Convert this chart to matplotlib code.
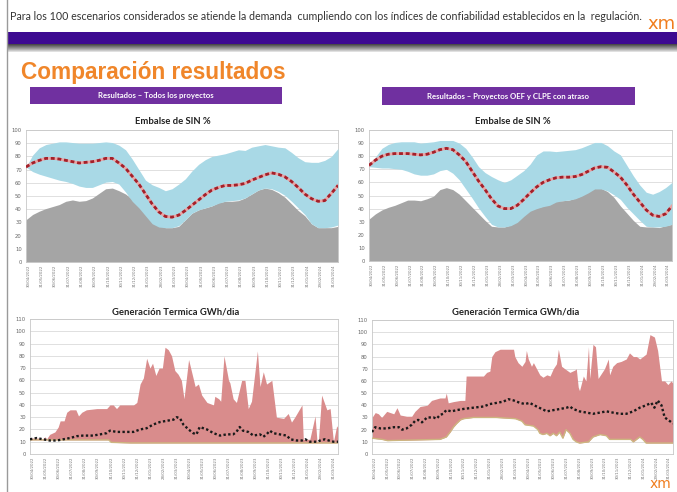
import numpy as np
import matplotlib
matplotlib.use("Agg")
from matplotlib import pyplot as plt
from matplotlib.patches import Rectangle

# --- data --------------------------------------------------------------------
date_labels = ['30/04/2022', '31/05/2022', '30/06/2022', '31/07/2022', '31/08/2022',
               '30/09/2022', '31/10/2022', '30/11/2022', '31/12/2022', '31/01/2023',
               '28/02/2023', '31/03/2023', '30/04/2023', '31/05/2023', '30/06/2023',
               '31/07/2023', '31/08/2023', '30/09/2023', '31/10/2023', '30/11/2023',
               '31/12/2023', '31/01/2024', '29/02/2024', '31/03/2024']

# Embalse SIN %, twice-monthly samples (left: todos los proyectos)
emb_l_mean = [72, 75, 77, 78.5, 78.5, 78, 77, 76, 75, 75.5, 76, 77, 78.5, 78.5, 75, 71,
              65, 59, 51.5, 44, 38, 34.5, 34, 35.5, 39, 43, 47, 51, 54.5, 56.5, 58, 58,
              58.5, 59.5, 62, 64, 66, 67.5, 66.5, 64.5, 61, 56.5, 51.5, 48, 46, 46.5, 52, 58]
emb_l_max = [72, 81, 86.5, 89, 90, 91, 91, 90.5, 90, 90, 90, 90.5, 91, 90.5, 88.5, 85,
             78, 70, 62, 58.5, 56.5, 54, 55.5, 59, 63, 69, 74, 77.5, 80, 81, 82, 83.5,
             85, 84.5, 87, 88, 89, 88, 87, 86.5, 83, 79, 76, 75.5, 75.5, 77, 80, 86]
emb_l_min = [72, 68.5, 66.5, 65, 63.5, 62, 61, 59.5, 57.5, 56.5, 56.5, 58.5, 60.5, 61, 59, 53,
             46, 41, 35, 29, 26.5, 26, 26, 27.5, 32, 37, 39.5, 41, 42.5, 44.5, 46, 46.5,
             47, 48.5, 51.5, 54.5, 56, 55.5, 53.5, 50.5, 46, 41, 36, 29, 26, 26, 26.5, 28]
emb_l_hist = [32, 36, 38.5, 40.5, 42, 43.5, 46, 47, 46, 46.5, 48.5, 52, 55.5, 56, 54, 51.5,
              47.5, 43, 38, 33, 28, 26, 26, 27, 32, 37, 39.5, 41, 42.5, 45, 46, 46,
              46.5, 48.5, 51.5, 54.5, 56, 55, 52.5, 49, 44, 39, 35, 29, 26, 26, 26, 27]

# right: proyectos OEF y CLPE con atraso
emb_r_mean = [73, 77, 80, 81.5, 82, 82, 82, 81.5, 81, 81.5, 83, 85, 86, 85, 81, 76,
              68.5, 61, 54.5, 47.5, 42, 40, 40, 42.5, 47, 52, 56.5, 60, 62, 63.5, 64, 64,
              64.5, 66, 68.5, 71, 72, 71.5, 68, 64, 58, 51, 45, 39, 35, 34, 36, 42]
emb_r_max = [73, 79.5, 86, 89, 90.5, 91, 91, 91, 90, 90.5, 91, 92, 92, 92, 90, 86,
             79.5, 72, 67.5, 64.5, 62, 60, 62, 65.5, 69, 74, 81, 84, 84, 83.5, 84, 84.5,
             85, 86.5, 88.5, 90.5, 90.5, 88, 84, 81, 73, 65, 58, 52.5, 51, 53, 56, 60]
emb_r_min = [72, 71.5, 71, 71, 70.5, 70, 68.5, 66.5, 65.5, 65.5, 66.5, 69, 70, 67, 62, 55,
             48, 40.5, 34, 28, 26, 26, 27, 29.5, 34, 38, 40, 41.5, 42.5, 45, 46, 46.5,
             47.5, 49.5, 52, 55, 55, 53.5, 50.5, 47, 41, 36, 31, 26.5, 26, 26, 26.5, 28]
emb_r_hist = [32, 36, 39, 41, 42.5, 44.5, 46.5, 46.5, 46, 47.5, 49.5, 54.5, 56, 54.5, 51, 46,
              41, 36, 31, 26.5, 26, 26, 27.5, 31, 36, 39, 40.5, 42, 44.5, 46, 46, 46.5,
              48, 50, 53.5, 56, 55.5, 53, 48.5, 42, 36.5, 31, 26.5, 26, 26, 25.5, 27, 28]

# Generacion termica GWh/dia : (month, value) break points
gen_l_max_t = [-0.2, 0.45, 0.7, 0.95, 1.05, 1.3, 1.7, 1.95, 2.1, 2.4, 2.6, 2.85, 3.3, 3.5, 3.75,
               4.1, 4.9, 5.65, 5.9, 6.15, 6.4, 6.65, 7.7, 7.95, 8.2, 8.45, 8.7, 8.95, 9.15,
               9.4, 9.65, 9.9, 10.1, 10.35, 10.6, 10.85, 11.1, 11.35, 11.55, 11.9, 12.4,
               12.65, 12.9, 13.3, 13.8, 13.9, 14.2, 14.35, 14.6, 14.95, 15.05, 15.3, 15.55,
               15.95, 16.2, 16.45, 16.7, 17.15, 17.35, 17.6, 17.85, 18.25, 18.6, 19.15, 19.5,
               19.75, 20.0, 20.55, 20.65, 21.15, 21.55, 21.7, 21.8, 22.05, 22.45, 22.7, 22.95,
               23.2, 23.3]
gen_l_max_v = [13, 13, 12, 14, 12, 16, 18, 22, 27, 27, 34, 36, 36, 31, 34,
               36, 37, 37, 40, 40, 37, 40, 40, 42, 57, 62, 78, 70, 74,
               64, 70, 70, 87, 85, 80, 68, 65, 60, 45, 77, 55,
               57, 48, 42, 40, 47, 45, 43, 80, 60, 58, 45, 42,
               60, 60, 37, 43, 84, 55, 67, 57, 60, 30, 29, 33,
               26, 30, 40, 12, 12, 31, 10, 10, 48, 36, 37, 10,
               23, 21]
gen_l_min_t = [-0.2, 5.8, 6.0, 7.5, 23.3]
gen_l_min_v = [11.5, 11.5, 9.5, 9, 9]
gen_l_mean_t = [-0.2, 0.3, 0.8, 1.3, 1.85, 2.35, 2.85, 3.35, 3.85, 4.6, 5.15, 5.65, 5.9, 6.4,
                7.2, 7.7, 8.2, 8.7, 9.2, 9.7, 10.2, 10.75, 11.0, 11.25, 11.5, 11.9, 12.25,
                12.5, 12.75, 13.3, 13.8, 14.3, 14.8, 15.3, 15.55, 15.8, 16.05, 16.45, 16.85,
                17.35, 17.6, 17.85, 18.1, 18.35, 18.85, 19.4, 19.65, 20.15, 20.55, 20.8,
                21.15, 21.7, 21.95, 22.3, 22.6, 22.95, 23.3]
gen_l_mean_v = [12, 13, 12, 11, 11, 12, 13, 14.5, 15, 15, 16, 17, 19, 18,
                18, 18, 20, 21, 24, 26, 27, 28, 30, 29, 24, 20, 17,
                16, 22, 20, 17, 15, 16, 16, 18, 22, 19, 18, 15,
                16, 14, 16, 19, 17, 16, 15, 12, 11, 11, 12,
                10, 10, 11, 12, 11, 10, 10]

gen_r_max_t = [-0.2, 0.05, 0.3, 0.55, 0.95, 1.5, 1.75, 2.0, 2.5, 2.9, 3.15, 3.55, 4.1, 4.45,
               5.1, 5.5, 5.6, 5.75, 6.15, 6.7, 7.05, 7.15, 8.5, 8.75, 9.0, 9.15, 9.4, 9.8,
               10.85, 10.95, 11.2, 11.5, 11.75, 11.85, 12.0, 12.25, 12.4, 12.65, 12.9, 13.15,
               13.45, 13.7, 13.95, 14.2, 14.35, 14.6, 14.85, 15.25, 15.65, 15.75, 15.9, 16.0,
               16.3, 16.5, 16.7, 16.8, 17.05, 17.25, 17.45, 17.7, 17.95, 18.25, 18.35, 18.6,
               18.9, 19.25, 19.65, 19.9, 20.2, 20.45, 20.7, 20.95, 21.2, 21.5, 21.85, 22.1,
               22.4, 22.65, 22.9, 23.15, 23.3]
gen_r_max_v = [30, 34, 33, 30, 35, 33, 38, 32, 31, 31, 35, 39, 40, 44,
               46, 46, 50, 42, 43, 44, 44, 64, 64, 67, 68, 80, 84, 86,
               86, 80, 75, 72, 76, 85, 78, 72, 75, 70, 65, 63,
               65, 64, 70, 74, 86, 72, 70, 67, 69, 70, 55, 52,
               64, 60, 88, 62, 90, 88, 62, 66, 70, 78, 65, 72,
               75, 76, 78, 83, 80, 80, 78, 80, 82, 98, 96, 85,
               60, 60, 57, 60, 58]
gen_r_min_t = [-0.2, 0.6, 1.0, 5.1, 5.35, 5.6, 5.9, 6.15, 6.4, 6.7, 6.95, 7.7, 9.5, 11.0,
               11.5, 11.75, 12.4, 12.75, 12.9, 13.15, 13.45, 13.7, 13.95, 14.2, 14.45, 14.7,
               14.95, 15.25, 15.5, 15.75, 16.0, 16.7, 17.05, 17.6, 18.1, 18.35, 20.0, 20.2,
               20.7, 20.95, 21.2, 23.3]
gen_r_min_v = [13, 12, 11, 12, 13, 14, 18, 22, 25, 28, 29, 30, 30, 29,
               27, 24, 23, 20, 17, 16, 17, 15, 17, 15, 18, 13,
               20, 17, 12, 10, 9, 10, 14, 16, 15, 12, 12, 10,
               14, 12, 9, 9]
gen_r_mean_t = [-0.2, 0.05, 0.45, 0.95, 1.5, 1.9, 2.15, 2.5, 2.9, 3.15, 3.4, 3.7, 4.1, 4.6,
                4.85, 5.1, 5.35, 5.6, 6.0, 6.4, 6.95, 7.7, 8.5, 9.0, 9.55, 10.05, 10.45,
                10.85, 11.35, 11.75, 12.1, 12.65, 13.05, 13.45, 13.95, 14.5, 15.0, 15.25,
                15.5, 16.0, 16.55, 17.05, 17.6, 18.1, 18.6, 19.15, 19.65, 20.2, 20.7, 21.2,
                21.6, 21.85, 22.1, 22.4, 22.65, 23.05, 23.3]
gen_r_mean_v = [18, 22, 21, 21, 22, 22, 20, 21, 24, 27, 28, 26, 30, 30,
                29, 32, 33, 36, 35, 36, 37, 38, 39, 41, 42, 43, 45,
                44, 42, 41, 42, 39, 37, 35, 36, 37, 38, 39,
                37, 35, 34, 33, 34, 35, 34, 33, 33, 35, 38, 40,
                42, 38, 44, 40, 30, 27, 25]

# --- figure ---------------------------------------------------------------
W, H = 677, 492
fig = plt.figure(figsize=(W / 100, H / 100), dpi=100)
fig.patch.set_facecolor('white')

bg = fig.add_axes([0, 0, 1, 1])
bg.set_xlim(0, W)
bg.set_ylim(H, 0)
bg.axis('off')

# slide decoration
bg.add_patch(Rectangle((7, 32), W - 7, 12, color='#3d0a91', lw=0))
for i, c in enumerate(['#4a4a4a', '#5e5e5e', '#727272', '#868686', '#9a9a9a', '#b0b0b0', '#c8c8c8', '#e0e0e0']):
    bg.add_patch(Rectangle((7, 44 + i), W - 7, 1, color=c, lw=0))
bg.plot([7, 7], [0, H], color='#9a9a9a', lw=1)
bg.text(10, 16, 'Para los 100 escenarios considerados se atiende la demanda  cumpliendo con los índices '
        'de confiabilidad establecidos en la  regulación.', fontsize=7.7, family='Lato',
        color='#333333', va='center')
bg.text(647, 24, 'xm', fontsize=13, color='#f07d1e', va='center', family='DejaVu Sans')
bg.text(650, 484, 'xm', fontsize=10, color='#f07d1e', va='center', family='DejaVu Sans')
bg.text(21, 72, 'Comparación resultados', fontsize=16.3, weight='bold', color='#f0862a',
        va='center', family='Liberation Sans')

bg.add_patch(Rectangle((30, 87), 252, 17, color='#7030a0', lw=0))
bg.text(156, 95.5, 'Resultados – Todos los proyectos', fontsize=5.6, color='white',
        ha='center', va='center', family='Lato', weight='bold')
bg.add_patch(Rectangle((382, 87), 253, 18, color='#7030a0', lw=0))
bg.text(508, 96, 'Resultados – Proyectos OEF y CLPE con atraso', fontsize=5.6, color='white',
        ha='center', va='center', family='Lato', weight='bold')

bg.text(173, 122, 'Embalse de SIN %', fontsize=6.8, weight='bold', ha='center', va='center',
        family='Lato', color='#222222')
bg.text(513, 122, 'Embalse de SIN %', fontsize=6.8, weight='bold', ha='center', va='center',
        family='Lato', color='#222222')
bg.text(176, 312, 'Generación Termica GWh/dia', fontsize=6.8, weight='bold', ha='center',
        va='center', family='Lato', color='#222222')
bg.text(516, 312, 'Generación Termica GWh/dia', fontsize=6.8, weight='bold', ha='center',
        va='center', family='Lato', color='#222222')


def box(x0, y0, x1, y1):
    return [x0 / W, 1 - y1 / H, (x1 - x0) / W, (y1 - y0) / H]


tick_pos = np.arange(len(date_labels))
top_t = np.linspace(-0.2, 23.3, len(emb_l_mean))


def style(ax, ymax):
    ax.set_xlim(-0.2, 23.3)
    ax.set_ylim(0, ymax)
    ax.set_yticks(np.arange(0, ymax + 1, 10))
    ax.set_xticks(tick_pos)
    ax.set_xticklabels(date_labels, rotation=90, fontsize=2.8, color='#777777')
    ax.tick_params(axis='y', labelsize=3.8, colors='#666666', length=0, pad=3)
    ax.tick_params(axis='x', length=0, pad=2)
    ax.grid(axis='y', color='#dadada', lw=0.6)
    ax.set_axisbelow(True)
    for s in ax.spines.values():
        s.set_color('#c8c8c8')
        s.set_linewidth(0.6)


def embalse(ax, mean, vmax, vmin, hist):
    ax.fill_between(top_t, 0, hist, color='#a5a5a5', lw=0, zorder=2)
    ax.fill_between(top_t, vmin, vmax, color='#a9d9e6', lw=0, zorder=3)
    ax.plot(top_t, mean, color='#eba3a3', lw=2.0, zorder=4)
    ax.plot(top_t, mean, color='#a3202a', lw=2.0, dashes=(1.4, 1.0), zorder=5)
    style(ax, 100)


def termica(ax, tmax, vmax, tmin, vmin, tmean, vmean):
    grid = np.union1d(tmax, tmin)
    up = np.interp(grid, tmax, vmax)
    lo = np.interp(grid, tmin, vmin)
    ax.fill_between(grid, lo, up, color='#d98c8c', lw=0, zorder=2)
    ax.plot(tmin, vmin, color='#cdb680', lw=1.0, zorder=3)
    ax.plot(tmean, vmean, color='#1a1a1a', lw=1.7, dashes=(1.0, 1.0), zorder=4)
    style(ax, 110)


ax1 = fig.add_axes(box(26, 130, 338, 262))
embalse(ax1, emb_l_mean, emb_l_max, emb_l_min, emb_l_hist)
ax2 = fig.add_axes(box(369, 130, 672, 261))
embalse(ax2, emb_r_mean, emb_r_max, emb_r_min, emb_r_hist)
ax3 = fig.add_axes(box(30, 319, 338, 454))
termica(ax3, gen_l_max_t, gen_l_max_v, gen_l_min_t, gen_l_min_v, gen_l_mean_t, gen_l_mean_v)
ax4 = fig.add_axes(box(372, 320, 673, 454))
termica(ax4, gen_r_max_t, gen_r_max_v, gen_r_min_t, gen_r_min_v, gen_r_mean_t, gen_r_mean_v)

fig.savefig('out.png', dpi=100)
